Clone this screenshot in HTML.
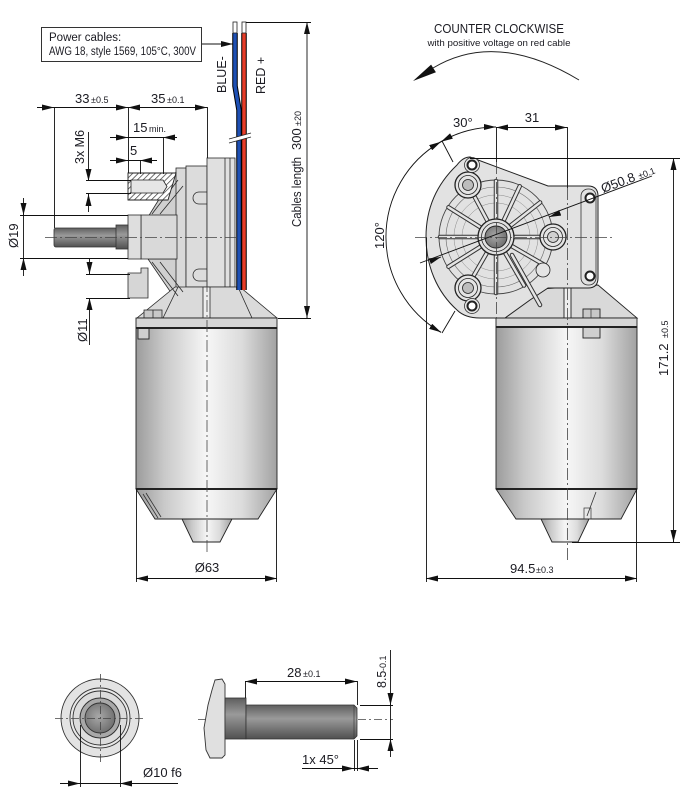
<!DOCTYPE html>
<html><head><meta charset="utf-8"><style>
html,body{margin:0;padding:0;background:#fff;}
svg{display:block;}
text{font-family:"Liberation Sans",Arial,sans-serif;fill:#1b1b22;}
</style></head><body>
<svg width="683" height="798" viewBox="0 0 683 798" xmlns="http://www.w3.org/2000/svg">
<defs>
<marker id="ah" viewBox="0 0 12 6" refX="12" refY="3" markerWidth="12" markerHeight="6" markerUnits="userSpaceOnUse" orient="auto"><path d="M0,0L12,3L0,6z" fill="#111"/></marker>
<linearGradient id="cyl" x1="0" x2="1" y1="0" y2="0">
<stop offset="0" stop-color="#9c9c9c"/><stop offset="0.2" stop-color="#c9c9c9"/><stop offset="0.5" stop-color="#f6f6f6"/><stop offset="0.75" stop-color="#dcdcdc"/><stop offset="1" stop-color="#a2a2a2"/>
</linearGradient>
<linearGradient id="shaft" x1="0" x2="0" y1="0" y2="1">
<stop offset="0" stop-color="#5e5e5e"/><stop offset="0.4" stop-color="#9a9a9a"/><stop offset="1" stop-color="#505050"/>
</linearGradient>
<radialGradient id="dk" cx="0.45" cy="0.45" r="0.6"><stop offset="0" stop-color="#a8a8a8"/><stop offset="1" stop-color="#6c6c6c"/></radialGradient>
<pattern id="hatch" width="4" height="4" patternUnits="userSpaceOnUse" patternTransform="rotate(45)"><rect width="4" height="4" fill="#fff"/><line x1="0" y1="0" x2="0" y2="4" stroke="#333" stroke-width="1.4"/></pattern>
</defs>

<!-- ================= LEFT VIEW ================= -->
<rect x="41.5" y="27.5" width="160" height="34" fill="#fff" stroke="#333"/>
<text x="49" y="41" font-size="11.5">Power cables:</text>
<text x="49" y="55" font-size="11.5" textLength="147" lengthAdjust="spacingAndGlyphs">AWG 18, style 1569, 105°C, 300V</text>
<line x1="202" y1="44" x2="233" y2="44" stroke="#111" marker-end="url(#ah)"/>

<!-- gearbox left -->
<g fill="#d9d9d9" stroke="#2a2a2a" stroke-width="0.8">
<polygon points="148,217 176,172 186,168 186,215" fill="#d0d0d0"/>
<polygon points="148,259 186,259 186,300 176,300" fill="#d0d0d0"/>
<rect x="176" y="168" width="10" height="132"/>
<rect x="141" y="215" width="36" height="44"/>
<rect x="128" y="215" width="13" height="44" fill="#dedede"/>
<polygon points="128,273 141,273 141,268 148,268 148,298 128,298" fill="#d6d6d6"/>
<rect x="186" y="166" width="21" height="121" fill="#dcdcdc"/>
<rect x="207" y="158" width="28" height="129" fill="#e0e0e0"/>
<polygon points="175,287 240,287 277,318 137,318" fill="#dadada"/>
<rect x="203" y="287" width="7" height="31" fill="#eee"/>
<rect x="144" y="310" width="18" height="8" fill="#c8c8c8"/>
</g>
<g stroke="#2a2a2a" stroke-width="0.8" fill="none">
<line x1="225" y1="158" x2="225" y2="287"/><line x1="230" y1="158" x2="230" y2="287"/>
<path d="M207,192 h-8 a6,6 0 0 0 0,12 h8"/>
<path d="M207,269 h-8 a6,6 0 0 0 0,12 h8"/>
<line x1="152" y1="214" x2="178" y2="180"/><line x1="160" y1="214" x2="183" y2="186"/>
<line x1="152" y1="262" x2="178" y2="296"/><line x1="160" y1="262" x2="183" y2="292"/>
<line x1="178" y1="287" x2="163" y2="318"/><line x1="238" y1="287" x2="252" y2="318"/>
<line x1="153" y1="310" x2="153" y2="318"/>
</g>
<polygon points="128,173 176,173 168,200 128,200" fill="url(#hatch)" stroke="#222" stroke-width="0.9"/>
<polygon points="131,180 163,180 167,186.5 163,193 131,193" fill="#e6e6e6" stroke="#222" stroke-width="0.8"/>
<rect x="54" y="228" width="63" height="19" rx="2" fill="url(#shaft)" stroke="#333" stroke-width="0.8"/>
<rect x="116" y="225" width="12" height="24" fill="url(#shaft)" stroke="#333" stroke-width="0.8"/>

<!-- motor left -->
<g stroke="#222" stroke-width="0.9">
<rect x="136" y="318" width="141" height="10" fill="#d6d6d6"/>
<rect x="136" y="328" width="141" height="161" fill="url(#cyl)"/>
<polygon points="136,489 277,489 258,519 155,519" fill="url(#cyl)"/>
<polygon points="182,519 232,519 220,542 193,542" fill="url(#cyl)"/>
<rect x="138" y="328" width="11" height="11" fill="#cfcfcf"/>
</g>
<line x1="136" y1="328" x2="277" y2="328" stroke="#222" stroke-width="2"/>
<line x1="136" y1="489" x2="277" y2="489" stroke="#222" stroke-width="2"/>
<line x1="143" y1="494" x2="158" y2="518" stroke="#333" stroke-width="0.8"/>
<line x1="146" y1="493" x2="161" y2="517" stroke="#333" stroke-width="0.8"/>

<!-- cables -->
<path d="M235,33 L235,86 L239,110 L239,290" stroke="#000" stroke-width="5.5" fill="none"/>
<path d="M235,33 L235,86 L239,110 L239,290" stroke="#1e50b4" stroke-width="3.5" fill="none"/>
<path d="M244,33 L244,290" stroke="#000" stroke-width="5.5" fill="none"/>
<path d="M244,33 L244,290" stroke="#e63c28" stroke-width="3.5" fill="none"/>
<rect x="233" y="22" width="4" height="11" fill="#fff" stroke="#222" stroke-width="0.8"/>
<rect x="242" y="22" width="4" height="11" fill="#fff" stroke="#222" stroke-width="0.8"/>
<polygon points="229,139 251,133 251,137 229,143" fill="#fff"/>
<line x1="229" y1="139" x2="251" y2="133" stroke="#222" stroke-width="0.9"/>
<line x1="229" y1="143" x2="251" y2="137" stroke="#222" stroke-width="0.9"/>
<text transform="translate(226,93) rotate(-90)" font-size="12.5">BLUE-</text>
<text transform="translate(265,94) rotate(-90)" font-size="12.5">RED +</text>

<!-- left dimensions -->
<g stroke="#111" stroke-width="0.9" fill="none">
<line x1="246" y1="22.5" x2="311" y2="22.5"/>
<line x1="307" y1="22" x2="307" y2="318"/>
<line x1="278" y1="318.5" x2="311" y2="318.5"/>
<line x1="307" y1="34" x2="307" y2="22" marker-end="url(#ah)"/>
<line x1="307" y1="306" x2="307" y2="318" marker-end="url(#ah)"/>

<line x1="37" y1="107.5" x2="207" y2="107.5"/>
<line x1="42" y1="107.5" x2="54" y2="107.5" marker-end="url(#ah)"/>
<line x1="116" y1="107.5" x2="128" y2="107.5" marker-end="url(#ah)"/>
<line x1="140" y1="107.5" x2="128" y2="107.5" marker-end="url(#ah)"/>
<line x1="195" y1="107.5" x2="207" y2="107.5" marker-end="url(#ah)"/>
<line x1="54.5" y1="107" x2="54.5" y2="228"/>
<line x1="128.5" y1="107" x2="128.5" y2="173"/>
<line x1="207.5" y1="107" x2="207.5" y2="158"/>

<line x1="110" y1="137.5" x2="177" y2="137.5"/>
<line x1="116" y1="137.5" x2="128" y2="137.5" marker-end="url(#ah)"/>
<line x1="175" y1="137.5" x2="163" y2="137.5" marker-end="url(#ah)"/>
<line x1="163.5" y1="137" x2="163.5" y2="174"/>

<line x1="110" y1="160.5" x2="157" y2="160.5"/>
<line x1="116" y1="160.5" x2="128" y2="160.5" marker-end="url(#ah)"/>
<line x1="152" y1="160.5" x2="140" y2="160.5" marker-end="url(#ah)"/>
<line x1="140.5" y1="160" x2="140.5" y2="174"/>

<line x1="88.5" y1="132" x2="88.5" y2="181"/>
<line x1="88.5" y1="169" x2="88.5" y2="181" marker-end="url(#ah)"/>
<line x1="88.5" y1="206" x2="88.5" y2="194" marker-end="url(#ah)"/>
<line x1="88.5" y1="194" x2="88.5" y2="212"/>
<line x1="86" y1="180.5" x2="131" y2="180.5"/>
<line x1="86" y1="193.5" x2="131" y2="193.5"/>

<line x1="23.5" y1="198" x2="23.5" y2="276"/>
<line x1="23.5" y1="203" x2="23.5" y2="215" marker-end="url(#ah)"/>
<line x1="23.5" y1="270" x2="23.5" y2="258" marker-end="url(#ah)"/>
<line x1="20" y1="215.5" x2="128" y2="215.5"/>
<line x1="20" y1="258.5" x2="128" y2="258.5"/>

<line x1="89.5" y1="258" x2="89.5" y2="274"/>
<line x1="89.5" y1="262" x2="89.5" y2="274" marker-end="url(#ah)"/>
<line x1="89.5" y1="310" x2="89.5" y2="298" marker-end="url(#ah)"/>
<line x1="89.5" y1="298" x2="89.5" y2="345"/>
<line x1="86" y1="274.5" x2="130" y2="274.5"/>
<line x1="86" y1="298.5" x2="130" y2="298.5"/>

<line x1="136" y1="578.5" x2="277" y2="578.5"/>
<line x1="148" y1="578.5" x2="136" y2="578.5" marker-end="url(#ah)"/>
<line x1="265" y1="578.5" x2="277" y2="578.5" marker-end="url(#ah)"/>
<line x1="136.5" y1="489" x2="136.5" y2="582"/>
<line x1="276.5" y1="489" x2="276.5" y2="582"/>
</g>
<g stroke="#444" stroke-width="0.8" stroke-dasharray="12 3 2 3" fill="none">
<line x1="45" y1="237.5" x2="240" y2="237.5"/>
<line x1="207" y1="280" x2="207" y2="552"/>
</g>
<text transform="translate(301,227) rotate(-90)" font-size="13" textLength="70" lengthAdjust="spacingAndGlyphs">Cables length</text>
<text transform="translate(301,150) rotate(-90)" font-size="13">300</text>
<text transform="translate(301,126) rotate(-90)" font-size="9">±20</text>
<text x="75" y="103" font-size="13">33</text><text x="91" y="103" font-size="9">±0.5</text>
<text x="151" y="103" font-size="13">35</text><text x="167" y="103" font-size="9">±0.1</text>
<text x="133" y="132" font-size="13">15</text><text x="149" y="132" font-size="9">min.</text>
<text x="130" y="155" font-size="13">5</text>
<text transform="translate(84,164) rotate(-90)" font-size="12.5">3x M6</text>
<text transform="translate(18,248) rotate(-90)" font-size="13">Ø19</text>
<text transform="translate(87,342) rotate(-90)" font-size="13">Ø11</text>
<text x="207" y="572" font-size="13" text-anchor="middle">Ø63</text>

<!-- ================= RIGHT VIEW ================= -->
<text x="499" y="33" font-size="13" text-anchor="middle" textLength="130" lengthAdjust="spacingAndGlyphs">COUNTER CLOCKWISE</text>
<text x="499" y="46" font-size="9.5" text-anchor="middle" textLength="143" lengthAdjust="spacingAndGlyphs">with positive voltage on red cable</text>
<path d="M579,80 Q496,30 433,68" stroke="#222" stroke-width="1" fill="none"/>
<polygon points="413,81 435.9,72.2 431.1,64.6" fill="#111"/>

<g stroke="#222" stroke-width="0.9">
<polygon points="497,292 598,285 637,318 497,318" fill="#d9d9d9"/>
<rect x="564" y="287" width="7" height="31" fill="#eee"/>
<rect x="583" y="309" width="17" height="9" fill="#c8c8c8"/>
<rect x="496" y="318" width="141" height="9" fill="#d6d6d6"/>
<rect x="496" y="327" width="141" height="162" fill="url(#cyl)"/>
<polygon points="496,489 637,489 621,519 516,519" fill="url(#cyl)"/>
<polygon points="541,519 589,519 578,542 552,542" fill="url(#cyl)"/>
<rect x="583" y="327" width="17" height="11" fill="#cfcfcf"/>
</g>
<line x1="496" y1="327" x2="637" y2="327" stroke="#222" stroke-width="2"/>
<line x1="496" y1="489" x2="637" y2="489" stroke="#222" stroke-width="2"/>
<line x1="596" y1="492" x2="587" y2="516" stroke="#333" stroke-width="0.8"/>
<rect x="584" y="508" width="7" height="11" fill="none" stroke="#333" stroke-width="0.7"/>
<line x1="591" y1="309" x2="591" y2="318" stroke="#333" stroke-width="0.7"/>

<path d="M470,157 L548,186 L588,186 Q598,186 598,196 L598,278 Q598,288 588,288 L548,288 L530,300 L505,318 L480,318 Q465,318 457,310 C437,292 426,266 426,237 C426,208 437,184 457,165 Q463,157 470,157 Z" fill="#e2e2e2" stroke="#222" stroke-width="1"/>
<rect x="581" y="189" width="15" height="96" rx="7" fill="none" stroke="#333" stroke-width="0.8"/>
<g fill="none">
<circle cx="496" cy="237" r="57" stroke="#444" stroke-width="0.9"/>
<circle cx="496" cy="237" r="50" stroke="#666" stroke-width="0.6"/>
<circle cx="496" cy="237" r="42" stroke="#888" stroke-width="0.5"/>
<circle cx="496" cy="237" r="34" stroke="#888" stroke-width="0.5"/>
</g>
<g stroke="#333" stroke-width="4.5" stroke-linecap="round">
<line x1="514" y1="237" x2="552" y2="237"/>
<line x1="510.2" y1="225.9" x2="540.1" y2="202.5"/>
<line x1="503.6" y1="220.7" x2="519.7" y2="186.3"/>
<line x1="496" y1="219" x2="496" y2="181"/>
<line x1="487.6" y1="221.1" x2="469.7" y2="187.6"/>
<line x1="480.7" y1="227.5" x2="448.5" y2="207.3"/>
<line x1="478" y1="237" x2="440" y2="237"/>
<line x1="480.7" y1="246.5" x2="448.5" y2="266.7"/>
<line x1="487" y1="252.6" x2="468" y2="285.5"/>
<line x1="496" y1="255" x2="496" y2="293"/>
<line x1="505" y1="252.6" x2="524" y2="285.5"/>
<line x1="511.6" y1="246" x2="544.5" y2="265"/>
<line x1="512" y1="255" x2="540" y2="305"/>
</g>
<g stroke="#e4e4e4" stroke-width="2.5" stroke-linecap="round">
<line x1="514" y1="237" x2="552" y2="237"/>
<line x1="510.2" y1="225.9" x2="540.1" y2="202.5"/>
<line x1="503.6" y1="220.7" x2="519.7" y2="186.3"/>
<line x1="496" y1="219" x2="496" y2="181"/>
<line x1="487.6" y1="221.1" x2="469.7" y2="187.6"/>
<line x1="480.7" y1="227.5" x2="448.5" y2="207.3"/>
<line x1="478" y1="237" x2="440" y2="237"/>
<line x1="480.7" y1="246.5" x2="448.5" y2="266.7"/>
<line x1="487" y1="252.6" x2="468" y2="285.5"/>
<line x1="496" y1="255" x2="496" y2="293"/>
<line x1="505" y1="252.6" x2="524" y2="285.5"/>
<line x1="511.6" y1="246" x2="544.5" y2="265"/>
<line x1="512" y1="255" x2="540" y2="305"/>
</g>
<g stroke="#222">
<circle cx="468" cy="185" r="13" fill="#e4e4e4" stroke-width="1.3"/>
<circle cx="468" cy="185" r="9.5" fill="none" stroke-width="0.8"/>
<circle cx="468" cy="185" r="5.5" fill="#bdbdbd" stroke-width="0.8"/>
<circle cx="468" cy="288" r="13" fill="#e4e4e4" stroke-width="1.3"/>
<circle cx="468" cy="288" r="9.5" fill="none" stroke-width="0.8"/>
<circle cx="468" cy="288" r="5.5" fill="#bdbdbd" stroke-width="0.8"/>
<circle cx="553" cy="237" r="13" fill="#e4e4e4" stroke-width="1.3"/>
<circle cx="553" cy="237" r="9.5" fill="none" stroke-width="0.8"/>
<circle cx="553" cy="237" r="5.5" fill="#d0d0d0" stroke-width="0.8"/>
<circle cx="543" cy="270" r="7" fill="#e4e4e4" stroke-width="0.8"/>
<circle cx="496" cy="237" r="18" fill="#e0e0e0" stroke-width="1.3"/>
<circle cx="496" cy="237" r="14.5" fill="none" stroke-width="0.8"/>
<circle cx="496" cy="237" r="11" fill="url(#dk)" stroke-width="0.9"/>
<circle cx="472" cy="165" r="7.5" fill="#e4e4e4" stroke-width="0.7"/>
<circle cx="472" cy="165" r="4.5" fill="#fff" stroke-width="2"/>
<circle cx="472" cy="306" r="7.5" fill="#e4e4e4" stroke-width="0.7"/>
<circle cx="472" cy="306" r="4.5" fill="#fff" stroke-width="2"/>
<circle cx="590" cy="198" r="4.5" fill="#fff" stroke-width="2"/>
<circle cx="590" cy="276" r="4.5" fill="#fff" stroke-width="2"/>
</g>

<g stroke="#111" stroke-width="0.9" fill="none">
<line x1="496" y1="127.5" x2="567" y2="127.5"/>
<line x1="508" y1="127.5" x2="496" y2="127.5" marker-end="url(#ah)"/>
<line x1="555" y1="127.5" x2="567" y2="127.5" marker-end="url(#ah)"/>
<line x1="496.5" y1="127" x2="496.5" y2="162"/>
<line x1="567.5" y1="127" x2="567.5" y2="188"/>
<path d="M496,127 A110,110 0 0 0 441,141.7"/>
<path d="M441,141.7 A110,110 0 0 0 441,332.3"/>
<line x1="484" y1="127" x2="496" y2="127" marker-end="url(#ah)"/>
<line x1="451.4" y1="136" x2="441" y2="141.7" marker-end="url(#ah)"/>
<line x1="430.6" y1="147.7" x2="441" y2="141.7" marker-end="url(#ah)"/>
<line x1="430.6" y1="326.3" x2="441" y2="332.3" marker-end="url(#ah)"/>
<line x1="442" y1="141" x2="453" y2="162"/>
<line x1="442" y1="333" x2="455" y2="311"/>

<line x1="420" y1="263" x2="652" y2="176"/>
<line x1="429.8" y1="261.2" x2="441" y2="257" marker-end="url(#ah)"/>
<line x1="560.2" y1="212.8" x2="549" y2="217" marker-end="url(#ah)"/>

<line x1="470" y1="158.5" x2="680" y2="158.5"/>
<line x1="673.5" y1="158" x2="673.5" y2="542"/>
<line x1="673.5" y1="170" x2="673.5" y2="158" marker-end="url(#ah)"/>
<line x1="673.5" y1="530" x2="673.5" y2="542" marker-end="url(#ah)"/>
<line x1="572" y1="542.5" x2="680" y2="542.5"/>

<line x1="426" y1="578.5" x2="637" y2="578.5"/>
<line x1="438" y1="578.5" x2="426" y2="578.5" marker-end="url(#ah)"/>
<line x1="625" y1="578.5" x2="637" y2="578.5" marker-end="url(#ah)"/>
<line x1="426.5" y1="237" x2="426.5" y2="582"/>
<line x1="636.5" y1="489" x2="636.5" y2="582"/>
</g>
<g stroke="#444" stroke-width="0.8" stroke-dasharray="12 3 2 3" fill="none">
<line x1="415" y1="237.5" x2="612" y2="237.5"/>
<line x1="567.5" y1="188" x2="567.5" y2="560"/>
<line x1="496.5" y1="162" x2="496.5" y2="318"/>
</g>
<text x="532" y="122" font-size="13" text-anchor="middle">31</text>
<text x="453" y="127" font-size="13">30°</text>
<text transform="translate(384,249) rotate(-90)" font-size="13">120°</text>
<text transform="translate(603,193) rotate(-20.6)" font-size="13">Ø50.8 <tspan font-size="9">±0.1</tspan></text>
<text transform="translate(668,376) rotate(-90)" font-size="13">171.2</text>
<text transform="translate(668,338) rotate(-90)" font-size="9">±0.5</text>
<text x="510" y="573" font-size="13">94.5</text><text x="536" y="573" font-size="9">±0.3</text>

<!-- ================= BOTTOM ================= -->
<g stroke="#333">
<circle cx="100" cy="718" r="39" fill="#e3e3e3" stroke-width="0.9"/>
<circle cx="100" cy="718" r="30" fill="#e8e8e8" stroke-width="0.9"/>
<circle cx="100" cy="718" r="27" fill="#dcdcdc" stroke-width="0.9"/>
<circle cx="100" cy="718" r="20" fill="#a8a8a8" stroke-width="1"/>
<circle cx="100" cy="718" r="15" fill="url(#dk)" stroke-width="0.9"/>
</g>
<g stroke="#444" stroke-width="0.8" stroke-dasharray="8 3 2 3" fill="none">
<line x1="55" y1="718.5" x2="146" y2="718.5"/>
<line x1="100.5" y1="674" x2="100.5" y2="763"/>
<line x1="198" y1="719.5" x2="393" y2="719.5"/>
</g>
<path d="M215,680 L222,679 L225,684 L225,755 L222,758 L210,758 L206,750 L204,728 L208,705 L212,690 Z" fill="#e0e0e0" stroke="#333" stroke-width="0.9"/>
<rect x="225" y="698" width="21" height="41" fill="url(#shaft)" stroke="#333" stroke-width="0.8"/>
<path d="M246,705 L354,705 L357,708 L357,736 L354,739 L246,739 Z" fill="url(#shaft)" stroke="#333" stroke-width="0.8"/>
<line x1="354" y1="705" x2="354" y2="739" stroke="#333" stroke-width="0.6"/>
<g stroke="#111" stroke-width="0.9" fill="none">
<line x1="60" y1="783.5" x2="178" y2="783.5"/>
<line x1="68" y1="783.5" x2="80" y2="783.5" marker-end="url(#ah)"/>
<line x1="132" y1="783.5" x2="120" y2="783.5" marker-end="url(#ah)"/>
<line x1="80.5" y1="725" x2="80.5" y2="787"/>
<line x1="120.5" y1="725" x2="120.5" y2="787"/>

<line x1="245" y1="681.5" x2="357" y2="681.5"/>
<line x1="257" y1="681.5" x2="245" y2="681.5" marker-end="url(#ah)"/>
<line x1="345" y1="681.5" x2="357" y2="681.5" marker-end="url(#ah)"/>
<line x1="245.5" y1="681" x2="245.5" y2="698"/>
<line x1="357.5" y1="681" x2="357.5" y2="705"/>

<line x1="360" y1="705.5" x2="393" y2="705.5"/>
<line x1="360" y1="739.5" x2="393" y2="739.5"/>
<line x1="390.5" y1="650" x2="390.5" y2="757"/>
<line x1="390.5" y1="693" x2="390.5" y2="705" marker-end="url(#ah)"/>
<line x1="390.5" y1="751" x2="390.5" y2="739" marker-end="url(#ah)"/>

<line x1="354.5" y1="740" x2="354.5" y2="771"/>
<line x1="357.5" y1="740" x2="357.5" y2="771"/>
<line x1="302" y1="768.5" x2="378" y2="768.5"/>
<line x1="342" y1="768.5" x2="354" y2="768.5" marker-end="url(#ah)"/>
<line x1="369" y1="768.5" x2="357" y2="768.5" marker-end="url(#ah)"/>
</g>
<text x="143" y="777" font-size="13">Ø10 f6</text>
<text x="287" y="677" font-size="13">28</text><text x="303" y="677" font-size="9">±0.1</text>
<text transform="translate(386,688) rotate(-90)" font-size="12.5">8.5</text>
<text transform="translate(386,671) rotate(-90)" font-size="9">-0.1</text>
<text x="302" y="764" font-size="13">1x 45°</text>
</svg>
</body></html>
